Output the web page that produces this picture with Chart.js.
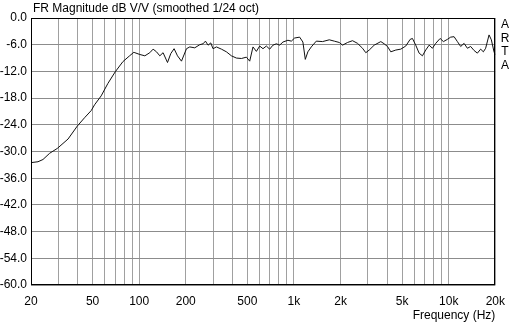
<!DOCTYPE html>
<html>
<head>
<meta charset="utf-8">
<script src="https://cdn.jsdelivr.net/npm/chart.js@4"></script>
<style>
  html, body { margin: 0; padding: 0; background: #fff; }
  #wrap { width: 514px; height: 325px; }
</style>
</head>
<body>
<div id="wrap"><canvas id="frChart" width="514" height="325"></canvas></div>
<script>
// ======================================
// DATA
// ======================================
const freqs = [20, 22.2, 23.9, 26.4, 29.6, 34.7, 39.8, 44.4, 49, 51.5, 56.8, 62.8, 70, 78.5, 86.7, 92.4,
    93.8, 101, 108.8, 117.1, 123, 129.4, 135.9, 142.7, 152.4, 160, 168.1, 176.8, 187.6, 202.1, 212.2,
    228.6, 246.2, 258.6, 268, 278.6, 290, 300, 315.6, 340, 366, 394.4, 424.8, 457.6, 492.8, 517.6,
    543.7, 571.8, 600.6, 630.7, 663.4, 696.7, 731.8, 769.6, 808.4, 848.8, 914.2, 961.7, 1010, 1088,
    1142, 1184, 1230, 1294, 1394, 1531, 1691, 1822, 1962, 2060, 2220, 2390, 2575, 2774, 2912, 3064,
    3300, 3640, 3828, 4020, 4224, 4550, 4898, 5276, 5632, 5828, 6120, 6438, 6762, 7102, 7470, 7844,
    8238, 8796, 9238, 9802, 10294, 10828, 11372, 11944, 12566, 13196, 13858, 14578, 15312, 16082,
    16740, 17318, 18218, 18850, 19616, 20000];
const magDb = [-32.5, -32.3, -31.8, -30.4, -29.3, -27.2, -24.3, -22.4, -20.8, -19.5, -17.5, -14.7, -12.1, -9.8, -8.5, -7.7,
    -7.8, -8.2, -8.5, -7.8, -7.0, -7.6, -8.5, -7.8, -10.0, -8.0, -6.9, -8.5, -9.7, -6.9, -6.5,
    -6.7, -6.0, -5.8, -5.2, -6.1, -5.6, -6.9, -6.5, -7.0, -7.6, -8.5, -9.0, -9.1, -8.8, -9.7,
    -6.5, -7.5, -6.3, -6.9, -6.3, -7.0, -6.1, -5.8, -6.1, -5.4, -5.0, -5.2, -4.5, -4.3,
    -5.4, -9.3, -7.6, -6.5, -5.2, -5.3, -4.9, -5.2, -5.5, -6.1, -5.5, -5.1, -5.7, -6.8, -7.8, -7.2,
    -6.1, -5.3, -5.8, -6.4, -7.6, -7.2, -7.0, -6.3, -4.8, -4.6, -6.1, -7.9, -8.5, -7.2, -6.1, -6.8,
    -5.7, -4.6, -5.3, -4.8, -4.3, -4.2, -5.3, -6.4, -5.7, -6.8, -6.4, -7.3, -7.9, -7.0,
    -7.6, -6.8, -3.8, -4.9, -7.6, -8.3];

const gridFreqs = [20, 30, 40, 50, 60, 70, 80, 90, 100, 200, 300, 400, 500, 600, 700, 800, 900,
    1000, 2000, 3000, 4000, 5000, 6000, 7000, 8000, 9000, 10000, 20000];
const labelFreqs = {20: "20", 50: "50", 100: "100", 200: "200", 500: "500", 1000: "1k",
    2000: "2k", 5000: "5k", 10000: "10k", 20000: "20k"};

const titleText = "FR Magnitude dB V/V (smoothed 1/24 oct)";
const xTitle = "Frequency (Hz)";
const brand = ["A", "R", "T", "A"];

const FONT = "'Liberation Sans', Arial, sans-serif";

// ======================================
// EXTRA DRAWING (frame, title, labels)
// ======================================
const artaDecor = {
    id: "artaDecor",
    afterDraw(chart) {
        const c = chart.ctx;
        const a = chart.chartArea;
        c.save();
        c.strokeStyle = "#000";
        c.lineWidth = 1;
        c.strokeRect(Math.round(a.left) + 0.5, Math.round(a.top) + 0.5,
            Math.round(a.right - a.left) - 1, Math.round(a.bottom - a.top) - 1);
        c.fillStyle = "#000";
        c.font = "12px " + FONT;
        c.textBaseline = "middle";
        c.textAlign = "left";
        c.fillText(titleText, a.left + 2, 9);
        c.textAlign = "right";
        c.fillText(xTitle, a.right, 316);
        c.textAlign = "center";
        brand.forEach((ch, i) => c.fillText(ch, 505, 25 + i * 13.5));
        c.restore();
    }
};

// ======================================
// CHART INIT
// ======================================
const points = freqs.map((f, i) => ({ x: f, y: magDb[i] }));

new Chart(document.getElementById("frChart"), {
    type: "line",
    data: {
        datasets: [{
            data: points,
            borderColor: "#111",
            borderWidth: 1,
            pointRadius: 0,
            tension: 0,
            fill: false
        }]
    },
    options: {
        responsive: false,
        animation: false,
        layout: { padding: { top: 18, right: 18, left: 0, bottom: 0 } },
        plugins: { legend: { display: false }, tooltip: { enabled: false } },
        scales: {
            x: {
                type: "logarithmic",
                min: 20,
                max: 20000,
                afterBuildTicks: (axis) => { axis.ticks = gridFreqs.map(v => ({ value: v })); },
                afterFit: (axis) => { axis.height = 40; },
                grid: { color: "#a0a0a0", drawTicks: false, lineWidth: 1 },
                border: { display: false },
                ticks: {
                    autoSkip: false,
                    maxRotation: 0,
                    padding: 9,
                    color: "#000",
                    font: { family: FONT, size: 12 },
                    callback: (v) => labelFreqs[v] || ""
                }
            },
            y: {
                min: -60,
                max: 0,
                afterFit: (axis) => { axis.width = 31; },
                grid: { color: "#8c8c8c", drawTicks: false, lineWidth: 1 },
                border: { display: false },
                ticks: {
                    stepSize: 6,
                    padding: 4,
                    color: "#000",
                    font: { family: FONT, size: 12 },
                    callback: (v) => v.toFixed(1)
                }
            }
        }
    },
    plugins: [artaDecor]
});
</script>
</body>
</html>
